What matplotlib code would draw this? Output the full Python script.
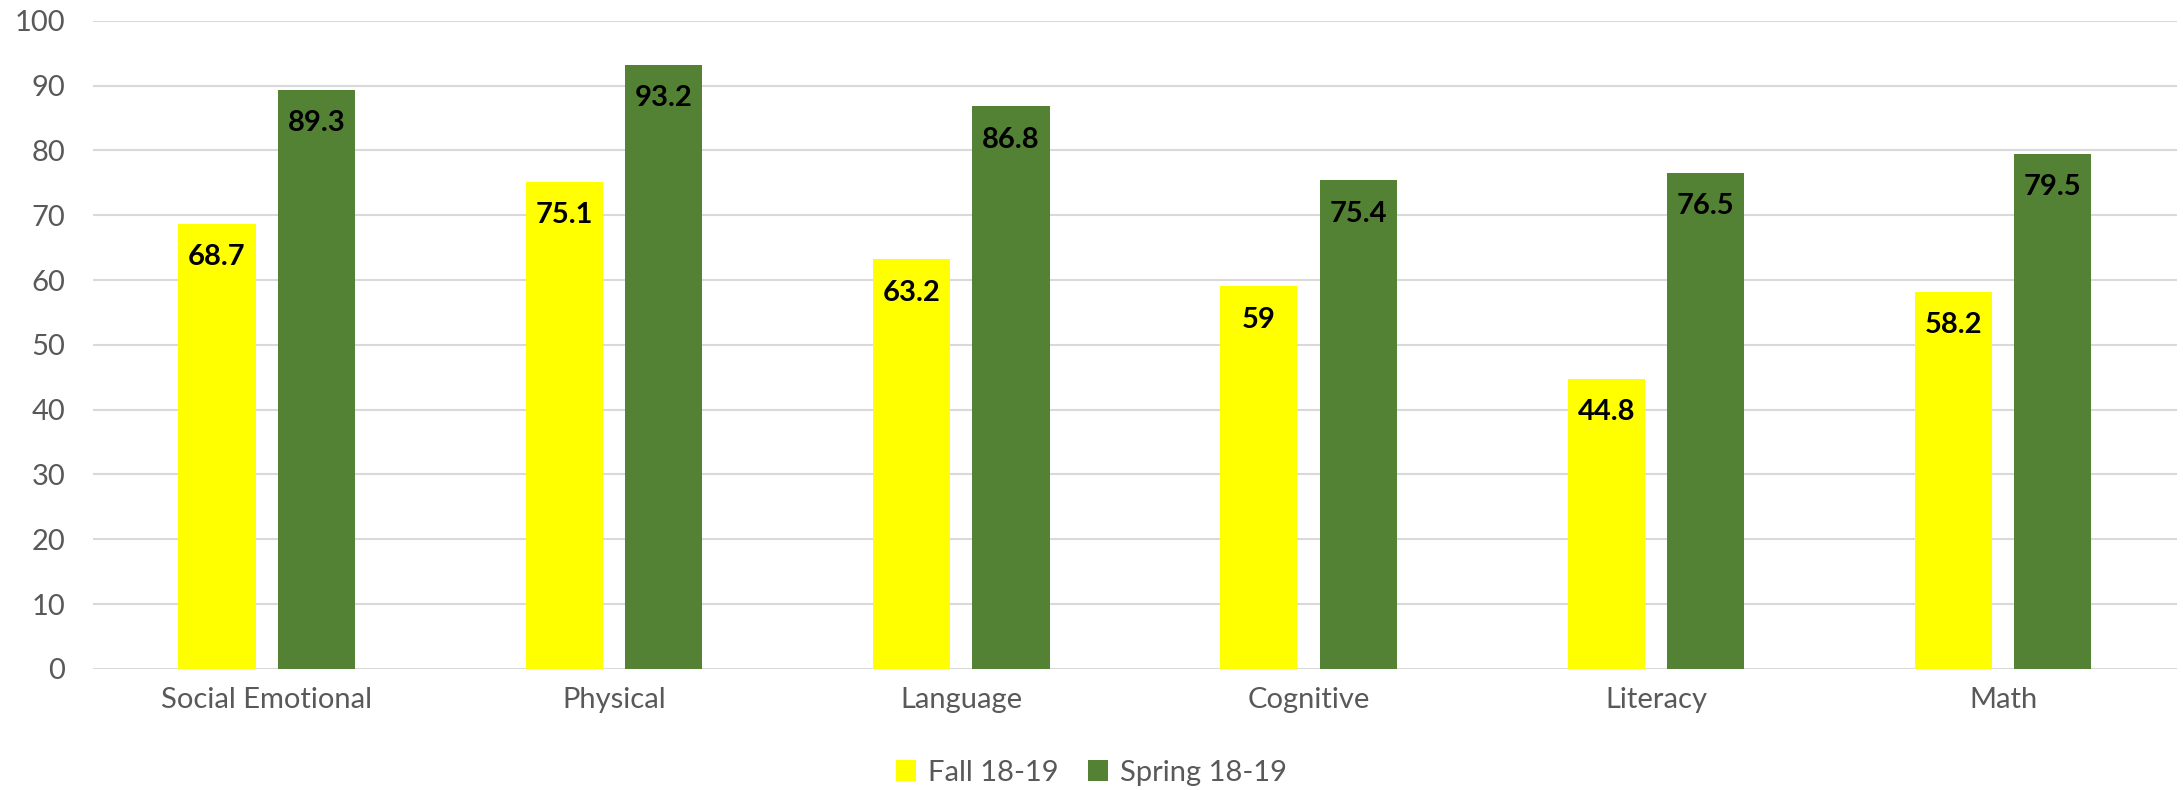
import matplotlib.pyplot as plt
import numpy as np

categories = ['Social Emotional', 'Physical', 'Language', 'Cognitive', 'Literacy', 'Math']
fall = [68.7, 75.1, 63.2, 59, 44.8, 58.2]
spring = [89.3, 93.2, 86.8, 75.4, 76.5, 79.5]
series_names = ['Fall 18-19', 'Spring 18-19']
yticks = [0, 10, 20, 30, 40, 50, 60, 70, 80, 90, 100]

plt.rcParams['font.family'] = ['Lato', 'DejaVu Sans']

fig = plt.figure(figsize=(21.83, 7.9), dpi=100)
ax = fig.add_axes([0.0426, 0.1532, 0.9546, 0.8206])

x = np.arange(len(categories))
width = 0.222
offset = 0.143

bars_fall = ax.bar(x - offset, fall, width, color='#FFFF00', label=series_names[0], zorder=3)
bars_spring = ax.bar(x + offset, spring, width, color='#548235', label=series_names[1], zorder=3)

# value labels, inside end of each bar
for bars, vals in [(bars_fall, fall), (bars_spring, spring)]:
    for b, v in zip(bars, vals):
        ax.annotate(f'{v:g}', (b.get_x() + b.get_width() / 2, v),
                    xytext=(0, -24), textcoords='offset points',
                    ha='center', va='center', fontsize=21, fontweight='bold',
                    color='black', zorder=4)

ax.set_xlim(-0.5, len(categories) - 0.5)
ax.set_ylim(0, 100)
ax.set_yticks(yticks)
ax.set_xticks(x)
ax.set_xticklabels(categories)
ax.tick_params(axis='both', length=0, labelsize=21, labelcolor='#595959')
ax.tick_params(axis='x', pad=13)
ax.tick_params(axis='y', pad=20)
ax.grid(axis='y', color='#D9D9D9', linewidth=1.5, zorder=0)
for s in ax.spines.values():
    s.set_visible(False)

fig.legend(loc='center', bbox_to_anchor=(0.5, 0.022), ncol=2, frameon=False,
           fontsize=21, handlelength=0.7, handleheight=0.7, handletextpad=0.4,
           columnspacing=1.0, labelcolor='#595959')

fig.savefig('out.png', dpi=100)
